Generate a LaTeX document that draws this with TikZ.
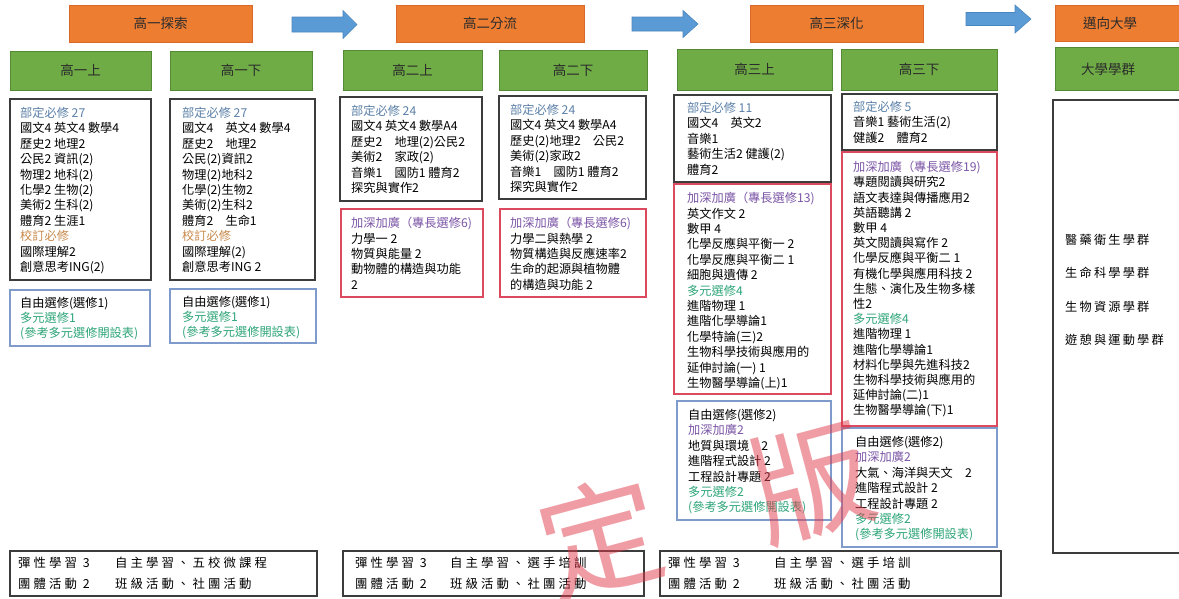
\documentclass[tikz,border=0pt]{standalone}
\usepackage{fontspec}
\setmainfont{Noto Sans CJK TC}
\newfontfamily\widefont[LetterSpace=25]{Noto Sans CJK TC}
\newfontfamily\grpfont[LetterSpace=18]{Noto Sans CJK TC}
\usetikzlibrary{fit}
\definecolor{orangeF}{HTML}{ED7D31}
\definecolor{orangeD}{HTML}{D8692A}
\definecolor{greenF}{HTML}{6FAC46}
\definecolor{greenD}{HTML}{548A33}
\definecolor{arrowF}{HTML}{5B9BD5}
\definecolor{arrowD}{HTML}{4A86BE}
\definecolor{boxK}{HTML}{3C3C3C}
\definecolor{boxR}{HTML}{DC4A60}
\definecolor{boxB}{HTML}{7F9BCB}
\definecolor{tBlue}{HTML}{5B80A8}
\definecolor{tOrange}{HTML}{C98A4B}
\definecolor{tPurple}{HTML}{7B55A6}
\definecolor{tGreen}{HTML}{2EA57A}
\definecolor{tHead}{HTML}{2B2B2B}
\definecolor{wmRed}{HTML}{E23A4A}
\begin{document}
\begin{tikzpicture}[x=1pt,y=-1pt,
  headfont/.style={text=tHead, font=\fontsize{13.5}{15}\selectfont, inner sep=0pt},
  hdr/.style={draw=orangeD, fill=orangeF, line width=0.8pt, inner sep=0pt},
  sem/.style={draw=greenD, fill=greenF, line width=0.8pt, inner sep=0pt},
  kbox/.style={draw=boxK, line width=1.8pt, inner sep=0pt},
  rbox/.style={draw=boxR, line width=1.4pt, inner sep=0pt},
  ubox/.style={draw=boxB, line width=1.4pt, inner sep=0pt},
  txt/.style={anchor=north west, inner sep=0pt, align=left, text=black, font=\fontsize{12.2}{15.4}\selectfont},
  btxt/.style={anchor=north west, inner sep=0pt, align=left, text=black, font=\widefont\fontsize{12.4}{21}\selectfont},
  blockarrow/.style={fill=arrowF, draw=arrowD, line width=0.6pt},
  watermark/.style={text=wmRed, opacity=0.5, font=\fontsize{122}{122}\selectfont, inner sep=0pt}
]
\useasboundingbox (0,0) rectangle (1179,598);
\fill[white] (0,0) rectangle (1179,598);

% stage headers
\node[hdr, fit={(69,5) (252,42)}] (o1) {};
\node[hdr, fit={(396,5) (584,42)}] (o2) {};
\node[hdr, fit={(750,5) (923,42)}] (o3) {};
\node[hdr, fit={(1055,5) (1195,41)}] (o4) {};
\node[headfont] (o1t) at (o1.center) {高一探索};
\node[headfont] (o2t) at (o2.center) {高二分流};
\node[headfont] (o3t) at (o3.center) {高三深化};
\node[headfont] (o4t) at (1110,23) {邁向大學};

% block arrows
\filldraw[blockarrow] (292,17) -- (343,17) -- (343,10.5) -- (357,24.5) -- (343,38.5) -- (343,32) -- (292,32) -- cycle;
\filldraw[blockarrow] (632,17) -- (683,17) -- (683,10.5) -- (698,24) -- (683,37.5) -- (683,31) -- (632,31) -- cycle;
\filldraw[blockarrow] (966,12.5) -- (1015,12.5) -- (1015,5) -- (1031,19) -- (1015,33) -- (1015,25.5) -- (966,25.5) -- cycle;

% semester headers
\node[sem, fit={(10,51) (151,90)}] (g11) {};
\node[sem, fit={(170,51) (312,90)}] (g12) {};
\node[sem, fit={(343,50) (482,90)}] (g21) {};
\node[sem, fit={(499,50) (647,90)}] (g22) {};
\node[sem, fit={(677,49) (832,90)}] (g31) {};
\node[sem, fit={(841,49) (997,90)}] (g32) {};
\node[sem, fit={(1055,47) (1195,90)}] (g4) {};
\node[headfont] (g11t) at (g11.center) {高一上};
\node[headfont] (g12t) at (g12.center) {高一下};
\node[headfont] (g21t) at (g21.center) {高二上};
\node[headfont] (g22t) at (g22.center) {高二下};
\node[headfont] (g31t) at (g31.center) {高三上};
\node[headfont] (g32t) at (g32.center) {高三下};
\node[headfont] (g4t) at (1108,69) {大學學群};

% content boxes
\node[kbox, fit={(10,99) (151,280)}] (k11) {};
\node[kbox, fit={(170,99) (315,280)}] (k12) {};
\node[ubox, fit={(10,290) (150,346)}] (u11) {};
\node[ubox, fit={(170,289) (316,343)}] (u12) {};
\node[kbox, fit={(340,97) (482,201)}] (k21) {};
\node[kbox, fit={(499,96) (646,199)}] (k22) {};
\node[rbox, fit={(341,209) (483,297)}] (r21) {};
\node[rbox, fit={(500,209) (646,297)}] (r22) {};
\node[kbox, fit={(674,95) (831,182)}] (k31) {};
\node[rbox, fit={(674,184) (831,394)}] (r31) {};
\node[ubox, fit={(677,401) (831,520)}] (u31) {};
\node[kbox, fit={(842,94) (997,150)}] (k32) {};
\node[rbox, fit={(842,152) (997,426)}] (r32) {};
\node[ubox, fit={(842,428) (997,547)}] (u32) {};
\node[kbox, fit={(1053,100) (1195,553)}] (univ) {};
\node[kbox, fit={(10,551) (317,596)}] (f1) {};
\node[kbox, fit={(343,551) (644,596)}] (f2) {};
\node[kbox, fit={(660,551) (1001,596)}] (f3) {};

% texts
\node[txt] (tk11) at (20,107) {{\color{tBlue}部定必修 27}\\國文4 英文4 數學4\\歷史2 地理2\\公民2 資訊(2)\\物理2 地科(2)\\化學2 生物(2)\\美術2 生科(2)\\體育2 生涯1\\{\color{tOrange}校訂必修}\\國際理解2\\創意思考ING(2)};
\node[txt] (tk12) at (182,107) {{\color{tBlue}部定必修 27}\\國文4　英文4 數學4\\歷史2　地理2\\公民(2)資訊2\\物理(2)地科2\\化學(2)生物2\\美術(2)生科2\\體育2　生命1\\{\color{tOrange}校訂必修}\\國際理解(2)\\創意思考ING 2};
\node[txt, font=\fontsize{12.2}{15}\selectfont] (tu11) at (20,297) {自由選修(選修1)\\{\color{tGreen}多元選修1}\\{\color{tGreen}(參考多元選修開設表)}};
\node[txt, font=\fontsize{12.2}{15}\selectfont] (tu12) at (182,296) {自由選修(選修1)\\{\color{tGreen}多元選修1}\\{\color{tGreen}(參考多元選修開設表)}};
\node[txt] (tk21) at (351,105) {{\color{tBlue}部定必修 24}\\國文4 英文4 數學A4\\歷史2　地理(2)公民2\\美術2　家政(2)\\音樂1　國防1 體育2\\探究與實作2};
\node[txt] (tr21) at (351,217) {{\color{tPurple}加深加廣（專長選修6)}\\力學一 2\\物質與能量 2\\動物體的構造與功能\\2};
\node[txt] (tk22) at (510,104) {{\color{tBlue}部定必修 24}\\國文4 英文4 數學A4\\歷史(2)地理2　公民2\\美術(2)家政2\\音樂1　國防1 體育2\\探究與實作2};
\node[txt] (tr22) at (510,217) {{\color{tPurple}加深加廣（專長選修6)}\\力學二與熱學 2\\物質構造與反應速率2\\生命的起源與植物體\\的構造與功能 2};
\node[txt] (tk31) at (687,102) {{\color{tBlue}部定必修 11}\\國文4　英文2\\音樂1\\藝術生活2 健護(2)\\體育2};
\node[txt] (tr31) at (687,192) {{\color{tPurple}加深加廣（專長選修13)}\\英文作文 2\\數甲 4\\化學反應與平衡一 2\\化學反應與平衡二 1\\細胞與遺傳 2\\{\color{tGreen}多元選修4}\\進階物理 1\\進階化學導論1\\化學特論(三)2\\生物科學技術與應用的\\延伸討論(一) 1\\生物醫學導論(上)1};
\node[txt] (tu31) at (688,409) {自由選修(選修2)\\{\color{tPurple}加深加廣2}\\地質與環境　2\\進階程式設計 2\\工程設計專題 2\\{\color{tGreen}多元選修2}\\{\color{tGreen}(參考多元選修開設表)}};
\node[txt] (tk32) at (853,101) {{\color{tBlue}部定必修 5}\\音樂1 藝術生活(2)\\健護2　體育2};
\node[txt, font=\fontsize{12.2}{15.2}\selectfont] (tr32) at (853,161) {{\color{tPurple}加深加廣（專長選修19)}\\專題閱讀與研究2\\語文表達與傳播應用2\\英語聽講 2\\數甲 4\\英文閱讀與寫作 2\\化學反應與平衡二 1\\有機化學與應用科技 2\\生態、演化及生物多樣\\性2\\{\color{tGreen}多元選修4}\\進階物理 1\\進階化學導論1\\材料化學與先進科技2\\生物科學技術與應用的\\延伸討論(二)1\\生物醫學導論(下)1};
\node[txt] (tu32) at (855,436) {自由選修(選修2)\\{\color{tPurple}加深加廣2}\\大氣、海洋與天文　2\\進階程式設計 2\\工程設計專題 2\\{\color{tGreen}多元選修2}\\{\color{tGreen}(參考多元選修開設表)}};
\node[txt, font=\grpfont\fontsize{12.2}{33.4}\selectfont] (tuniv) at (1065,234) {醫藥衛生學群\\生命科學學群\\生物資源學群\\遊憩與運動學群};

% bottom rows
\node[btxt] (tf1a) at (18,557) {彈性學習 3\\團體活動 2};
\node[btxt] (tf1b) at (115,557) {自主學習、五校微課程\\班級活動、社團活動};
\node[btxt] (tf2a) at (355,557) {彈性學習 3\\團體活動 2};
\node[btxt] (tf2b) at (450,557) {自主學習、選手培訓\\班級活動、社團活動};
\node[btxt] (tf3a) at (668,557) {彈性學習 3\\團體活動 2};
\node[btxt] (tf3b) at (774,557) {自主學習、選手培訓\\班級活動、社團活動};

% watermark
\node[watermark, rotate=15] (wm1) at (600,538) {定};
\node[watermark, rotate=15] (wm2) at (812,482) {版};
\end{tikzpicture}
\end{document}
